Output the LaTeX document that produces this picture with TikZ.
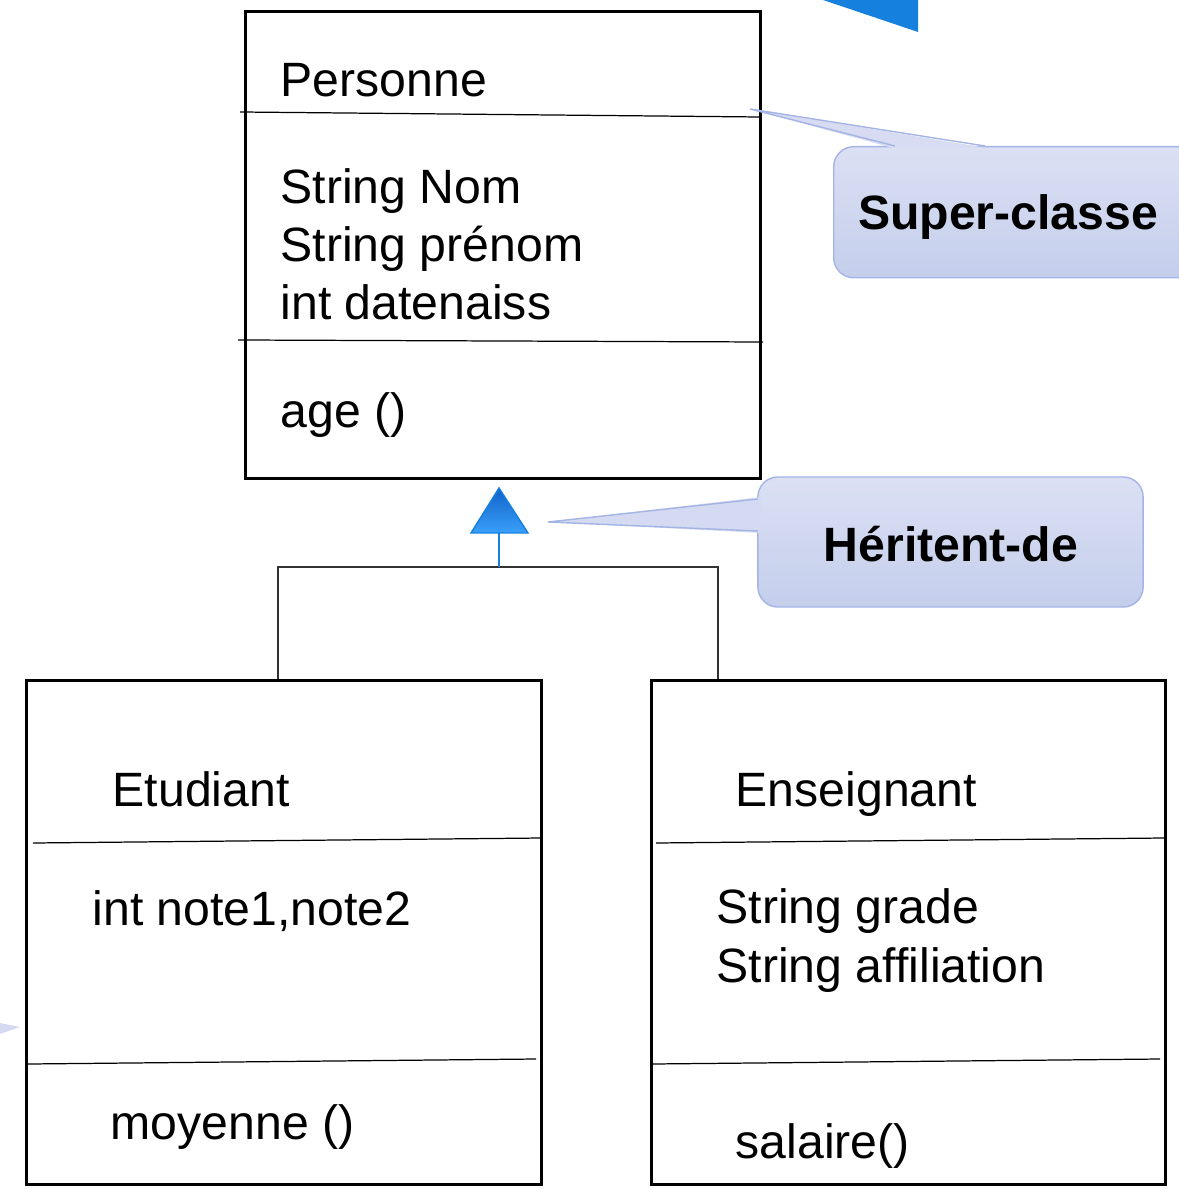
\documentclass[tikz,border=0pt]{standalone}
\usepackage{fontspec}
\setmainfont{Liberation Sans}
\usetikzlibrary{shadings}

\definecolor{umlblue}{RGB}{22,128,222}
\definecolor{tridark}{RGB}{16,98,200}
\definecolor{trilight}{RGB}{58,160,250}
\definecolor{calltop}{RGB}{219,224,243}
\definecolor{callbot}{RGB}{196,206,236}
\definecolor{callline}{RGB}{164,180,228}
\definecolor{callfill}{RGB}{212,218,241}

\newcommand{\umlfont}{\fontsize{13.7pt}{16.5pt}\selectfont}

\tikzset{
  classbox/.style={draw, line width=0.75pt, inner sep=0, anchor=north west},
  sep/.style={line width=0.35pt},
  member/.style={anchor=base west, inner sep=0, align=left, font=\umlfont},
  callout/.style={rounded corners=0.2cm, top color=calltop, bottom color=callbot,
    draw=callline, line width=0.4pt, inner sep=0},
  calltext/.style={font=\umlfont\bfseries, inner sep=0},
  link/.style={line width=0.45pt, black!80}
}

\begin{document}
\begin{tikzpicture}[x=0.01cm,y=-0.01cm]
	\useasboundingbox (0,0) rectangle (1178,1189);

	% corner of the blue arrow at the top
	\fill[umlblue] (823,0) -- (918,0) -- (918,32) -- cycle;
	% tail of a callout on the left edge
	\fill[callfill] (0,1023) -- (20,1027) -- (0,1034) -- cycle;

	% super class
	\node[classbox, minimum width=5.15cm, minimum height=4.67cm] (personne) at (244,10) {};
	\draw[sep] (240,112) -- (759,117);
	\draw[sep] (238,340) -- (763,342);
	\node[member] (pname) at (280,97) {Personne};
	\node[member] (pattr) at (280,320) {String Nom\\String prénom\\int datenaiss};
	\node[member] (pmeth) at (280,428) {age ()};

	% sub classes
	\node[classbox, minimum width=5.15cm, minimum height=5.04cm] (etudiant) at (25,679) {};
	\draw[sep] (33,843) -- (542,838);
	\draw[sep] (28,1064) -- (536,1059);
	\node[member] (ename) at (112,806) {Etudiant};
	\node[member] (eattr) at (92,925) {int note1,note2};
	\node[member] (emeth) at (110,1139) {moyenne ()};

	\node[classbox, minimum width=5.14cm, minimum height=5.04cm] (enseignant) at (650,679) {};
	\draw[sep] (656,843) -- (1164,838);
	\draw[sep] (652,1064) -- (1160,1059);
	\node[member] (sname) at (735,806) {Enseignant};
	\node[member] (sattr) at (716,982) {String grade\\String affiliation};
	\node[member] (smeth) at (735,1158) {salaire()};

	% inheritance
	\coordinate (lefthook) at (278,567);
	\coordinate (righthook) at (718,567);
	\coordinate (arrowbase) at (499,533);
	\draw[link] (lefthook |- etudiant.north) -- (lefthook) -- (righthook) -- (righthook |- enseignant.north);
	\draw[umlblue, line width=0.45pt] (arrowbase) -- (arrowbase |- lefthook);
	\shade[top color=tridark, bottom color=trilight, draw=umlblue, line width=0.4pt]
		(471,533) -- (499,488) -- (528,533) -- cycle;

	% callouts
	\node[callout, minimum width=3.7cm, minimum height=1.31cm, anchor=north west] (superbox) at (833,146) {};
	\fill[callfill!60!calltop] (893,148) -- (750,109) -- (987,148) -- cycle;
	\draw[callline, line width=0.4pt] (895,146) -- (750,109) -- (985,146);
	\node[calltext] (superclasse) at (1008,217) {Super-classe};

	\node[callout, minimum width=3.85cm, minimum height=1.3cm] (heritent) at (950.5,542) {};
	\fill[callfill] (761,497) -- (548,522) -- (761,533) -- cycle;
	\draw[callline, line width=0.4pt] (758,499) -- (548,522) -- (758,531);
	\node[calltext] (heritentde) at (951,544) {Héritent-de};
\end{tikzpicture}
\end{document}
